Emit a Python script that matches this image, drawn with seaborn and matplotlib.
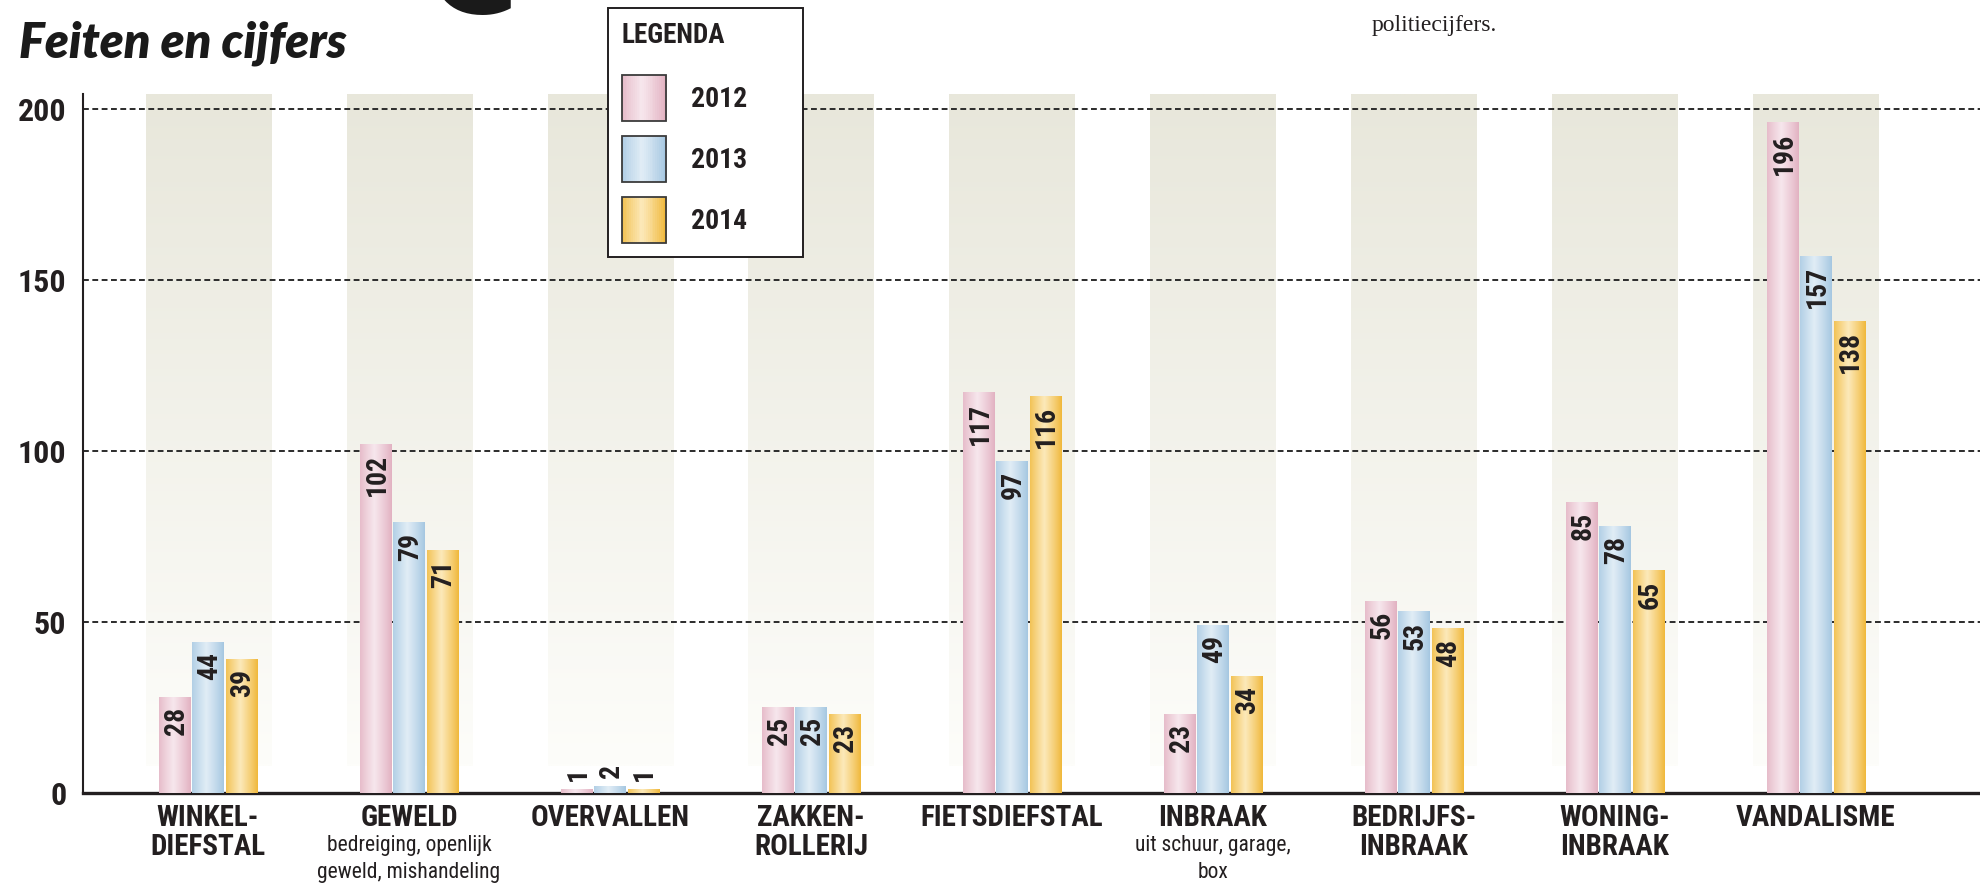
import os
import numpy as np
import pandas as pd
import matplotlib
matplotlib.use("Agg")
import matplotlib.pyplot as plt
import seaborn as sns
from matplotlib import font_manager as fm
from matplotlib.patches import Patch, Rectangle
from matplotlib.legend_handler import HandlerBase
from matplotlib.colors import to_rgb

# data
categories = ["WINKEL-\nDIEFSTAL", "GEWELD", "OVERVALLEN", "ZAKKEN-\nROLLERIJ", "FIETSDIEFSTAL",
              "INBRAAK", "BEDRIJFS-\nINBRAAK", "WONING-\nINBRAAK", "VANDALISME"]
subtitles = ["", "bedreiging, openlijk\ngeweld, mishandeling", "", "", "",
             "uit schuur, garage,\nbox", "", "", ""]
years = ["2012", "2013", "2014"]
values_2012 = [28, 102, 1, 25, 117, 23, 56, 85, 196]
values_2013 = [44, 79, 2, 25, 97, 49, 53, 78, 157]
values_2014 = [39, 71, 1, 23, 116, 34, 48, 65, 138]
y_ticks = [0, 50, 100, 150, 200]

edge_colors = {"2012": "#e2b1c1", "2013": "#a5c7e1", "2014": "#f0b83a"}
light_colors = {"2012": "#f7e7ed", "2013": "#e1edf6", "2014": "#fce9ba"}
ink = "#231f20"

W, H = 1981, 883
YTOP = 204.4


def find_narrow(bold):
    # look for a narrow / condensed sans installed on the system
    prefs = ["liberationsansnarrow", "robotocondensed", "notosans-condensed", "dejavusanscondensed",
             "opensanscondensed", "opensans_condensed", "condensed", "narrow"]
    files = sorted({f.fname for f in fm.fontManager.ttflist})
    for p in prefs:
        for fn in files:
            b = os.path.basename(fn).lower().replace(" ", "")
            if p not in b or "italic" in b or "oblique" in b:
                continue
            style = b.split(p, 1)[1]
            if any(k in style for k in ("semi", "extra", "light", "thin", "medium", "black")):
                continue
            if bold and "bold" in style:
                return fn
            if not bold and "bold" not in style:
                return fn
    return None


BOLD_FILE = find_narrow(True)
REG_FILE = find_narrow(False)


def fp(size, bold=True):
    fn = BOLD_FILE if bold else REG_FILE
    if fn:
        return fm.FontProperties(fname=fn, size=size)
    return fm.FontProperties(family="DejaVu Sans", stretch="condensed",
                             weight="bold" if bold else "normal", size=size * 0.85)


def shade(year, n):
    e = np.array(to_rgb(edge_colors[year]))
    l = np.array(to_rgb(light_colors[year]))
    t = np.linspace(0, 1, n)
    w = np.clip(1 - np.abs(t - 0.45) / 0.55, 0, 1) ** 0.9
    return e + (l - e) * w[:, None]


class GradientBox(HandlerBase):
    def __init__(self, colors):
        super().__init__()
        self.colors = colors

    def create_artists(self, legend, orig_handle, xdescent, ydescent, width, height, fontsize, trans):
        n = len(self.colors)
        arts = []
        for k, c in enumerate(self.colors):
            arts.append(Rectangle((-xdescent + width * k / n, -ydescent), width / n + 0.5, height,
                                  facecolor=c, edgecolor="none", lw=0, transform=trans))
        arts.append(Rectangle((-xdescent, -ydescent), width, height, facecolor="none",
                              edgecolor="#3b3b3b", lw=1.3, transform=trans))
        return arts


sns.set_theme(style="white")
plt.rcParams["font.family"] = ["DejaVu Sans"]
plt.rcParams["text.color"] = ink

df = pd.DataFrame({
    "categorie": categories * 3,
    "jaar": np.repeat(years, len(categories)),
    "aantal": values_2012 + values_2013 + values_2014,
})

fig = plt.figure(figsize=(W / 100, H / 100), dpi=100)
ax = fig.add_axes([83 / W, 1 - 793 / H, 1 - 83 / W, (793 - 94) / H])

sns.barplot(data=df, x="categorie", y="aantal", hue="jaar", palette=edge_colors,
            width=0.495, gap=0.06, errorbar=None, legend=False, linewidth=0, ax=ax)

# background bands behind each group
band = np.linspace(0, 1, 200)[:, None]
top_c = np.array([232, 231, 219]) / 255
bot_c = np.array([253, 253, 250]) / 255
band_img = (top_c + (bot_c - top_c) * band).reshape(200, 1, 3)
for i in range(len(categories)):
    ax.imshow(band_img, extent=(i - 0.311, i + 0.311, 8, YTOP), aspect="auto", zorder=0.5,
              interpolation="bilinear")

for t in y_ticks[1:]:
    ax.axhline(t, color="#2b2b2b", lw=1.4, dashes=(3, 1.8), zorder=1)

series = [values_2012, values_2013, values_2014]
for container, year, vals in zip(ax.containers, years, series):
    grad = shade(year, 64)[None, :, :]
    for bar, v in zip(container, vals):
        bar.set_zorder(3)
        x0, w, h = bar.get_x(), bar.get_width(), bar.get_height()
        ax.imshow(grad, extent=(x0, x0 + w, 0, h), aspect="auto", zorder=3.1, interpolation="bilinear")
        inside = v >= 10
        ax.annotate(str(v), xy=(x0 + w / 2, h), xytext=(1.2, -7 if inside else 6),
                    textcoords="offset points", rotation=90, ha="center",
                    va="top" if inside else "bottom", fontproperties=fp(20),
                    color=ink, zorder=5)

ax.set_xlim(-0.622, 8.821)
ax.set_ylim(0, YTOP)
ax.set_xlabel("")
ax.set_ylabel("")
ax.set_facecolor("white")
sns.despine(ax=ax)
ax.spines["left"].set_color(ink)
ax.spines["left"].set_linewidth(1.5)
ax.spines["bottom"].set_color(ink)
ax.spines["bottom"].set_linewidth(2.4)

ax.set_yticks(y_ticks)
ax.set_yticklabels([str(t) for t in y_ticks], color=ink)
for lab in ax.get_yticklabels():
    lab.set_fontproperties(fp(23))
ax.tick_params(axis="y", length=0, pad=12)
ax.set_xticks(range(len(categories)))
ax.set_xticklabels(categories, color=ink, linespacing=1.05)
for lab in ax.get_xticklabels():
    lab.set_fontproperties(fp(21))
ax.tick_params(axis="x", length=0, pad=8)

for i, sub in enumerate(subtitles):
    if sub:
        ax.annotate(sub, xy=(i, 0), xycoords=ax.get_xaxis_transform(), xytext=(0, -30),
                    textcoords="offset points", ha="center", va="top",
                    fontproperties=fp(15.5, bold=False), color=ink, linespacing=1.4)

# legend
handles = [Patch(facecolor=edge_colors[y]) for y in years]
leg = fig.legend(handles, years,
                 handler_map={h: GradientBox(shade(y, 24)) for h, y in zip(handles, years)},
                 loc="upper left", bbox_to_anchor=(608 / W, 1 - 252 / H, 195 / W, 244 / H),
                 mode="expand", borderaxespad=0, frameon=True, fancybox=False, framealpha=1,
                 edgecolor=ink, facecolor="white", title="LEGENDA", alignment="left",
                 prop=fp(20), title_fontproperties=fp(19.5),
                 handlelength=1.6, handleheight=2.15, labelspacing=0.55, handletextpad=0.9,
                 borderpad=0.5)
leg._legend_box.sep = 0.55 * 20 + 8
leg.get_frame().set_linewidth(1.4)

# heading and surrounding page text
fig.text(19 / W, 1 - 57 / H, "Feiten en cijfers", fontsize=35, family="Lato", fontweight="heavy",
         fontstyle="italic", va="baseline", color="#1a1a1a")
fig.text(473 / W, 1 - 13 / H, "C", fontsize=90, fontweight="bold", family="DejaVu Sans",
         ha="center", va="baseline", color="#1a1a1a")
fig.text(1372 / W, 1 - 31 / H, "politiecijfers.", fontsize=17, family="Liberation Serif",
         va="baseline", color=ink)

fig.savefig("out.png", dpi=100)
